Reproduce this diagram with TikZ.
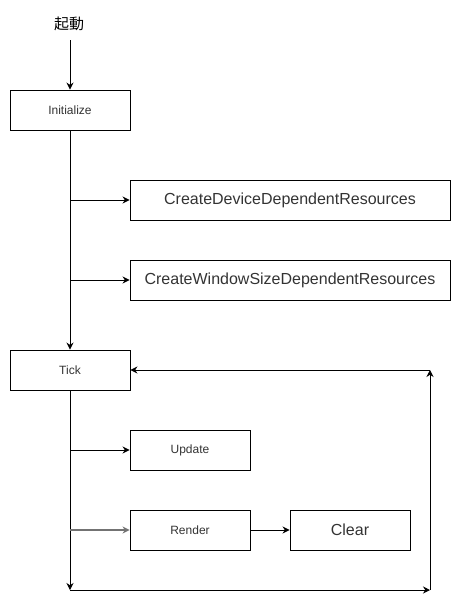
\documentclass[tikz,border=0pt]{standalone}
\usepackage{fontspec}
\setmainfont{Liberation Sans}
\newfontfamily\cjk{Noto Sans CJK JP}
\usetikzlibrary{arrows.meta}
\definecolor{txt}{HTML}{333333}
\begin{document}
\begin{tikzpicture}[x=1pt,y=-1pt,
  box/.style={draw=black,line width=0.9pt,minimum width=120pt,minimum height=40pt,inner sep=0pt,text=txt,font=\fontsize{12}{14}\selectfont},
  wide/.style={box,minimum width=320pt,font=\fontsize{16}{19}\selectfont},
  conn/.style={line width=0.9pt,-{Stealth[length=7pt,width=7pt]}}]
\useasboundingbox (0,0) rectangle (461,606);
\node[text=black,font=\cjk\fontsize{15}{18}\selectfont] (start) at (69,24) {起動};
\node[box] (init) at (70,110) {Initialize};
\node[wide] (cddr) at (290,200) {CreateDeviceDependentResources};
\node[wide] (cwsdr) at (290,280) {CreateWindowSizeDependentResources};
\node[box] (tick) at (70,370) {Tick};
\node[box] (update) at (190,450) {Update};
\node[box] (render) at (190,530) {Render};
\node[box,font=\fontsize{16}{19}\selectfont] (clear) at (350,530) {Clear};
\coordinate (s0) at (70,40);
\coordinate (b1) at (70,200);
\coordinate (b2) at (70,280);
\coordinate (b3) at (70,450);
\coordinate (b4) at (70,530);
\coordinate (bl) at (70,590);
\coordinate (br) at (430,590);
\coordinate (tr) at (430,370);
\draw[conn] (s0) -- (init.north);
\draw[conn] (init.south) -- (tick.north);
\draw[conn] (b1) -- (cddr.west);
\draw[conn] (b2) -- (cwsdr.west);
\draw[conn] (tick.south) -- (bl);
\draw[conn] (b3) -- (update.west);
\draw[conn,draw=black!55,line width=1.1pt] (b4) -- (render.west);
\draw[conn] (render.east) -- (clear.west);
\draw[conn] (bl) -- (br);
\draw[conn] (br) -- (tr);
\draw[conn] (tr) -- (tick.east);
\end{tikzpicture}
\end{document}
